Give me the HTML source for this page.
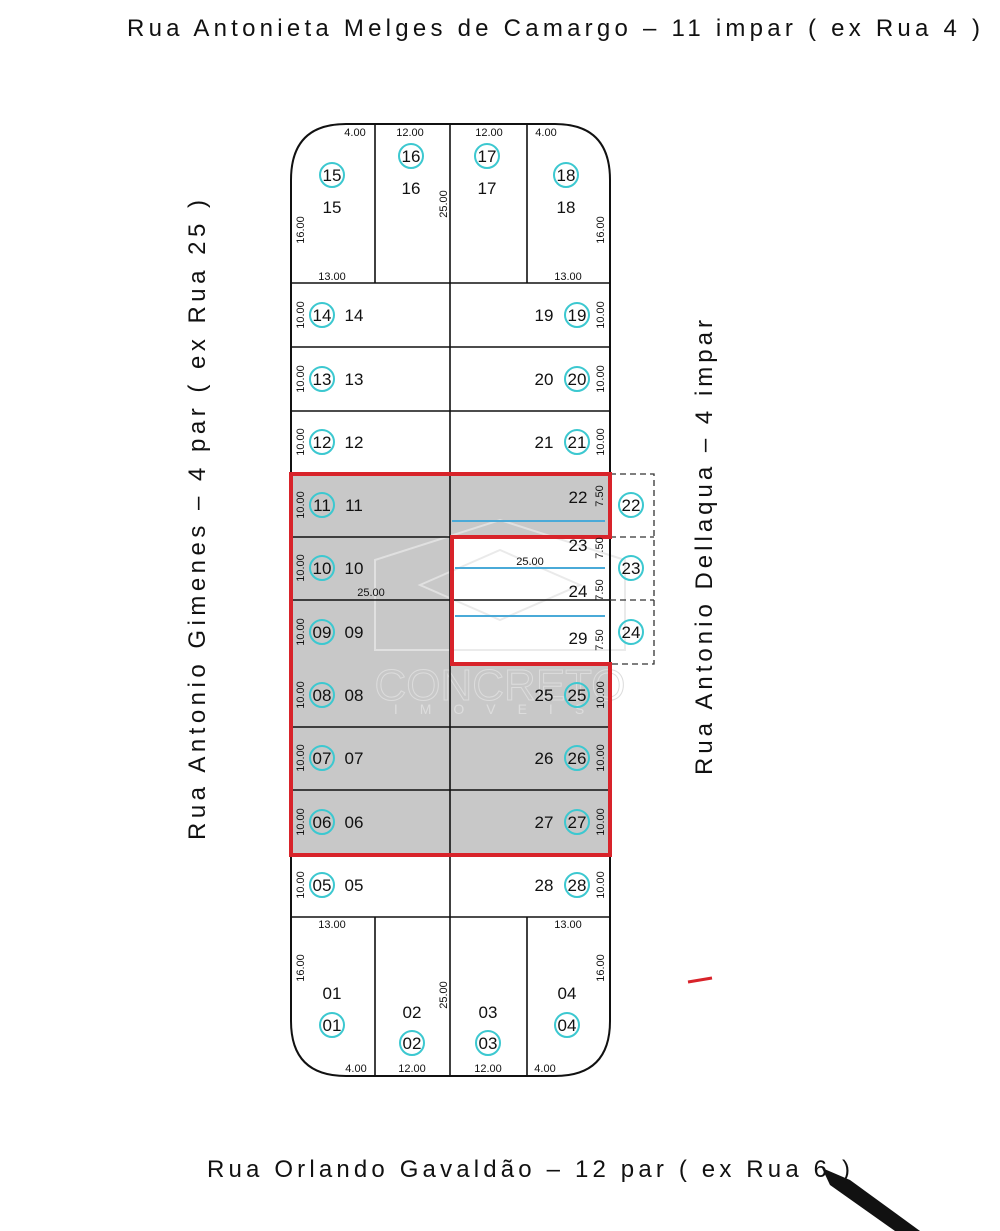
<!DOCTYPE html>
<html><head><meta charset="utf-8"><style>
html,body{margin:0;padding:0;background:#fff;}
svg{display:block;}
text{font-family:"Liberation Sans",sans-serif;fill:#111;}
.st{font-size:24px;}
.n{font-size:17px;text-anchor:middle;}
.d{font-size:11px;text-anchor:middle;}
.c{fill:none;stroke:#3cc8d0;stroke-width:2;}
</style></head><body>
<svg width="1000" height="1231" viewBox="0 0 1000 1231">
<rect width="1000" height="1231" fill="#fff"/>
<rect x="291" y="474" width="159" height="380" fill="#c8c8c8"/>
<rect x="450" y="474" width="160" height="63" fill="#c8c8c8"/>
<rect x="450" y="664" width="160" height="190" fill="#c8c8c8"/>
<g fill="none" stroke="#e6e6e6" stroke-width="2" opacity="0.8">
<path d="M375 560 L500 520 L625 560 L625 650 L375 650 Z"/>
<path d="M420 585 L500 550 L580 585 L500 620 Z"/>
</g>
<text x="500" y="700" font-size="44" text-anchor="middle" stroke="#dcdcdc" style="fill:none">CONCRETO</text>
<text x="500" y="714" font-size="14" text-anchor="middle" style="fill:#ddd;letter-spacing:22px">IMOVEIS</text>
<path d="M346 124 L555 124 Q610 124 610 180 L610 1021 Q610 1076 555 1076 L346 1076 Q291 1076 291 1021 L291 180 Q291 124 346 124 Z" fill="none" stroke="#111" stroke-width="2"/>
<g stroke="#111" stroke-width="1.6">
<line x1="450" y1="124" x2="450" y2="1076"/>
<line x1="375" y1="124" x2="375" y2="283"/>
<line x1="527" y1="124" x2="527" y2="283"/>
<line x1="375" y1="917" x2="375" y2="1076"/>
<line x1="527" y1="917" x2="527" y2="1076"/>
<line x1="291" y1="283" x2="610" y2="283"/>
<line x1="291" y1="347" x2="610" y2="347"/>
<line x1="291" y1="411" x2="610" y2="411"/>
<line x1="291" y1="537" x2="610" y2="537"/>
<line x1="291" y1="600" x2="610" y2="600"/>
<line x1="291" y1="727" x2="610" y2="727"/>
<line x1="291" y1="790" x2="610" y2="790"/>
<line x1="291" y1="917" x2="610" y2="917"/>
</g>
<g fill="none" stroke="#333" stroke-width="1.3" stroke-dasharray="6,4">
<path d="M610 474 H654 V664 H610"/>
<line x1="610" y1="537" x2="654" y2="537"/>
<line x1="610" y1="600" x2="654" y2="600"/>
</g>
<g stroke="#4aaad8" stroke-width="2">
<line x1="452" y1="521" x2="605" y2="521"/>
<line x1="455" y1="568" x2="605" y2="568"/>
<line x1="455" y1="616" x2="605" y2="616"/>
</g>
<g fill="none" stroke="#d8232a" stroke-width="4">
<path d="M289 474 H612"/>
<path d="M291 474 V855 H610 V664 H452 V537 H610 V474"/>
</g>
<text class="d" x="355" y="136">4.00</text>
<text class="d" x="410" y="136">12.00</text>
<text class="d" x="489" y="136">12.00</text>
<text class="d" x="546" y="136">4.00</text>
<text class="d" x="332" y="280">13.00</text>
<text class="d" x="568" y="280">13.00</text>
<text class="d" transform="translate(304,230) rotate(-90)">16.00</text>
<text class="d" transform="translate(604,230) rotate(-90)">16.00</text>
<text class="d" transform="translate(447,204) rotate(-90)">25.00</text>
<circle class="c" cx="332" cy="175" r="12"/><text class="n" x="332" y="181">15</text><text class="n" x="332" y="213">15</text>
<circle class="c" cx="411" cy="156" r="12"/><text class="n" x="411" y="162">16</text><text class="n" x="411" y="194">16</text>
<circle class="c" cx="487" cy="156" r="12"/><text class="n" x="487" y="162">17</text><text class="n" x="487" y="194">17</text>
<circle class="c" cx="566" cy="175" r="12"/><text class="n" x="566" y="181">18</text><text class="n" x="566" y="213">18</text>
<text class="d" x="332" y="928">13.00</text>
<text class="d" x="568" y="928">13.00</text>
<text class="d" x="356" y="1072">4.00</text>
<text class="d" x="412" y="1072">12.00</text>
<text class="d" x="488" y="1072">12.00</text>
<text class="d" x="545" y="1072">4.00</text>
<text class="d" transform="translate(304,968) rotate(-90)">16.00</text>
<text class="d" transform="translate(604,968) rotate(-90)">16.00</text>
<text class="d" transform="translate(447,995) rotate(-90)">25.00</text>
<text class="n" x="332" y="999">01</text><circle class="c" cx="332" cy="1025" r="12"/><text class="n" x="332" y="1031">01</text>
<text class="n" x="412" y="1018">02</text><circle class="c" cx="412" cy="1043" r="12"/><text class="n" x="412" y="1049">02</text>
<text class="n" x="488" y="1018">03</text><circle class="c" cx="488" cy="1043" r="12"/><text class="n" x="488" y="1049">03</text>
<text class="n" x="567" y="999">04</text><circle class="c" cx="567" cy="1025" r="12"/><text class="n" x="567" y="1031">04</text>
<g>
<text class="d" transform="translate(304,315) rotate(-90)">10.00</text><circle class="c" cx="322" cy="315" r="12"/><text class="n" x="322" y="321">14</text><text class="n" x="354" y="321">14</text>
<text class="d" transform="translate(304,379) rotate(-90)">10.00</text><circle class="c" cx="322" cy="379" r="12"/><text class="n" x="322" y="385">13</text><text class="n" x="354" y="385">13</text>
<text class="d" transform="translate(304,442) rotate(-90)">10.00</text><circle class="c" cx="322" cy="442" r="12"/><text class="n" x="322" y="448">12</text><text class="n" x="354" y="448">12</text>
<text class="d" transform="translate(304,505) rotate(-90)">10.00</text><circle class="c" cx="322" cy="505" r="12"/><text class="n" x="322" y="511">11</text><text class="n" x="354" y="511">11</text>
<text class="d" transform="translate(304,568) rotate(-90)">10.00</text><circle class="c" cx="322" cy="568" r="12"/><text class="n" x="322" y="574">10</text><text class="n" x="354" y="574">10</text>
<text class="d" transform="translate(304,632) rotate(-90)">10.00</text><circle class="c" cx="322" cy="632" r="12"/><text class="n" x="322" y="638">09</text><text class="n" x="354" y="638">09</text>
<text class="d" transform="translate(304,695) rotate(-90)">10.00</text><circle class="c" cx="322" cy="695" r="12"/><text class="n" x="322" y="701">08</text><text class="n" x="354" y="701">08</text>
<text class="d" transform="translate(304,758) rotate(-90)">10.00</text><circle class="c" cx="322" cy="758" r="12"/><text class="n" x="322" y="764">07</text><text class="n" x="354" y="764">07</text>
<text class="d" transform="translate(304,822) rotate(-90)">10.00</text><circle class="c" cx="322" cy="822" r="12"/><text class="n" x="322" y="828">06</text><text class="n" x="354" y="828">06</text>
<text class="d" transform="translate(304,885) rotate(-90)">10.00</text><circle class="c" cx="322" cy="885" r="12"/><text class="n" x="322" y="891">05</text><text class="n" x="354" y="891">05</text>
<text class="d" x="371" y="596">25.00</text>
</g>
<g>
<text class="n" x="544" y="321">19</text><circle class="c" cx="577" cy="315" r="12"/><text class="n" x="577" y="321">19</text><text class="d" transform="translate(604,315) rotate(-90)">10.00</text>
<text class="n" x="544" y="385">20</text><circle class="c" cx="577" cy="379" r="12"/><text class="n" x="577" y="385">20</text><text class="d" transform="translate(604,379) rotate(-90)">10.00</text>
<text class="n" x="544" y="448">21</text><circle class="c" cx="577" cy="442" r="12"/><text class="n" x="577" y="448">21</text><text class="d" transform="translate(604,442) rotate(-90)">10.00</text>
<text class="n" x="578" y="503">22</text><text class="d" transform="translate(603,496) rotate(-90)">7.50</text>
<text class="n" x="578" y="551">23</text><text class="d" transform="translate(603,548) rotate(-90)">7.50</text>
<text class="n" x="578" y="597">24</text><text class="d" transform="translate(603,590) rotate(-90)">7.50</text>
<text class="n" x="578" y="644">29</text><text class="d" transform="translate(603,640) rotate(-90)">7.50</text>
<text class="d" x="530" y="565">25.00</text>
<text class="n" x="544" y="701">25</text><circle class="c" cx="577" cy="695" r="12"/><text class="n" x="577" y="701">25</text><text class="d" transform="translate(604,695) rotate(-90)">10.00</text>
<text class="n" x="544" y="764">26</text><circle class="c" cx="577" cy="758" r="12"/><text class="n" x="577" y="764">26</text><text class="d" transform="translate(604,758) rotate(-90)">10.00</text>
<text class="n" x="544" y="828">27</text><circle class="c" cx="577" cy="822" r="12"/><text class="n" x="577" y="828">27</text><text class="d" transform="translate(604,822) rotate(-90)">10.00</text>
<text class="n" x="544" y="891">28</text><circle class="c" cx="577" cy="885" r="12"/><text class="n" x="577" y="891">28</text><text class="d" transform="translate(604,885) rotate(-90)">10.00</text>
<circle class="c" cx="631" cy="505" r="12"/><text class="n" x="631" y="511">22</text>
<circle class="c" cx="631" cy="568" r="12"/><text class="n" x="631" y="574">23</text>
<circle class="c" cx="631" cy="632" r="12"/><text class="n" x="631" y="638">24</text>
</g>
<text class="st" x="127" y="36" textLength="853" lengthAdjust="spacing">Rua Antonieta Melges de Camargo – 11 impar ( ex Rua 4 )</text>
<text class="st" transform="translate(205,840) rotate(-90)" x="0" y="0" textLength="640" lengthAdjust="spacing">Rua Antonio Gimenes – 4 par ( ex Rua 25 )</text>
<text class="st" transform="translate(712,775) rotate(-90)" x="0" y="0" textLength="455" lengthAdjust="spacing">Rua Antonio Dellaqua – 4 impar</text>
<text class="st" x="207" y="1177" textLength="643" lengthAdjust="spacing">Rua Orlando Gavaldão – 12 par ( ex Rua 6 )</text>
<line x1="688" y1="982" x2="712" y2="978" stroke="#d8232a" stroke-width="3"/>
<polygon points="822,1168 850,1180 920,1231 895,1231 830,1185" fill="#111"/>
</svg>
</body></html>
